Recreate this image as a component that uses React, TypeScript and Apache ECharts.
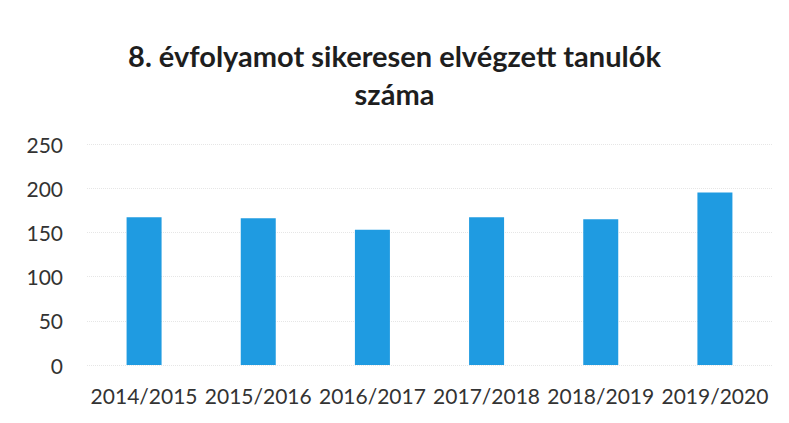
import React, { useEffect, useRef } from "react";
import * as echarts from "echarts";

const categories = ["2014/2015", "2015/2016", "2016/2017", "2017/2018", "2018/2019", "2019/2020"];
const values = [167, 166, 153, 167, 165, 195];
const titleText = "8. évfolyamot sikeresen elvégzett tanulók\nszáma";

export default function App() {
  const ref = useRef<HTMLDivElement>(null);
  useEffect(() => {
    if (!ref.current) return;
    const chart = echarts.init(ref.current, null, { renderer: "svg" });
    chart.setOption({
      animation: false,
      backgroundColor: "#ffffff",
      title: {
        text: titleText,
        left: "center",
        top: 31,
        textStyle: {
          fontFamily: "Lato",
          fontWeight: "bold",
          fontSize: 29,
          lineHeight: 38,
          color: "#1e1e1e",
        },
      },
      grid: { left: 87, right: 17, top: 144, bottom: 58, containLabel: false },
      xAxis: {
        type: "category",
        data: categories,
        axisLine: { show: false },
        axisTick: { show: false },
        axisLabel: {
          fontFamily: "Lato",
          fontSize: 21,
          color: "#333333",
          margin: 20,
          interval: 0,
        },
      },
      yAxis: {
        type: "value",
        min: 0,
        max: 250,
        interval: 50,
        axisLine: { show: false },
        axisTick: { show: false },
        axisLabel: {
          fontFamily: "Lato",
          fontSize: 21,
          color: "#333333",
          margin: 24,
        },
        splitLine: { lineStyle: { color: "#e6e6e6", type: "dotted", width: 1 } },
      },
      series: [
        {
          type: "bar",
          data: values,
          barWidth: 35,
          itemStyle: { color: "#1f9be1" },
        },
      ],
    });
    return () => chart.dispose();
  }, []);
  return <div ref={ref} style={{ width: 789, height: 423, margin: -8 }} />;
}
